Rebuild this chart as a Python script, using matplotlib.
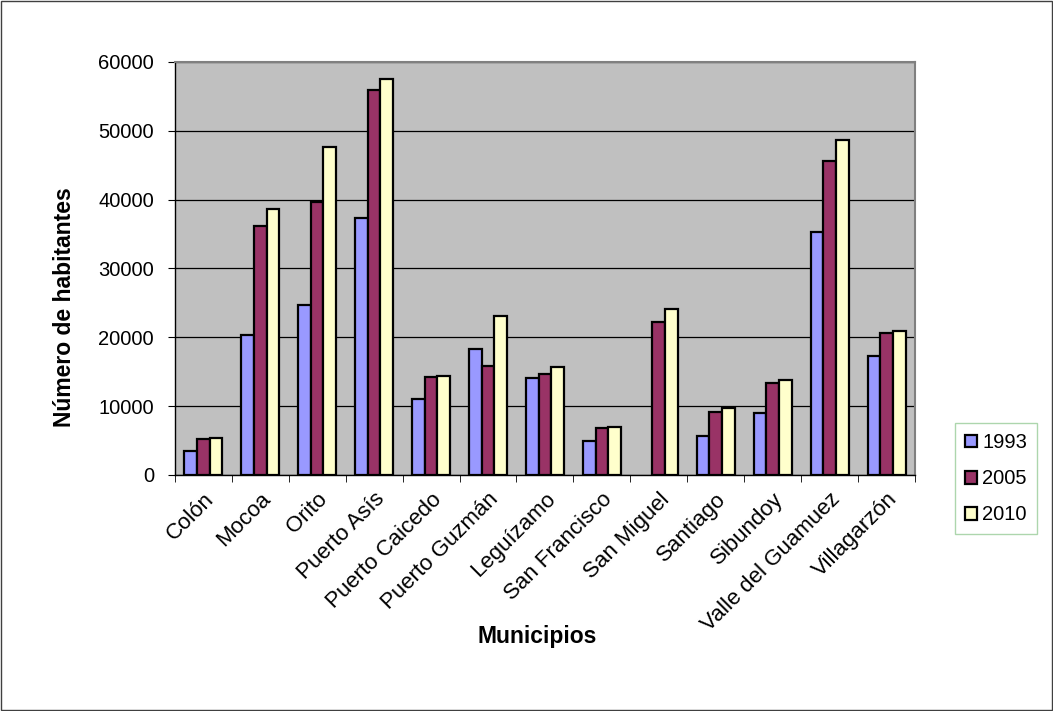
import matplotlib.pyplot as plt
import numpy as np

plt.rcParams['font.family'] = ['Liberation Sans', 'DejaVu Sans']

municipios = ["Colón", "Mocoa", "Orito", "Puerto Asís", "Puerto Caicedo",
              "Puerto Guzmán", "Leguízamo", "San Francisco", "San Miguel",
              "Santiago", "Sibundoy", "Valle del Guamuez", "Villagarzón"]
anios = ["1993", "2005", "2010"]
pob_1993 = [3500, 20270, 24640, 37250, 10960, 18330, 14070, 4950, 0, 5630, 8950, 35260, 17220]
pob_2005 = [5280, 36230, 39580, 55880, 14160, 15860, 14700, 6880, 22260, 9210, 13390, 45550, 20620]
pob_2010 = [5430, 38560, 47630, 57480, 14410, 23140, 15720, 7030, 24160, 9790, 13730, 48650, 20860]
colores = ["#9999FF", "#993366", "#FFFFCC"]

fig = plt.figure(figsize=(10.53, 7.11), dpi=100)
ax = fig.add_axes([0.166, 0.332, 0.703, 0.581])
ax.set_facecolor("#C0C0C0")

x = np.arange(len(municipios))
w = 1 / 4.5
for i, (serie, color, lab) in enumerate(zip([pob_1993, pob_2005, pob_2010], colores, anios)):
    # sin borde para valores cero (San Miguel 1993)
    lws = [1.6 if v > 0 else 0 for v in serie]
    ax.bar(x + (i - 1) * w, serie, width=w, color=color, edgecolor="black",
           linewidth=lws, label=lab, zorder=3)

ax.set_xlim(-0.5, len(municipios) - 0.5)
ax.set_ylim(0, 60000)
ax.set_yticks(range(0, 60001, 10000))
ax.yaxis.grid(True, color="black", linewidth=0.9, zorder=1)
ax.set_axisbelow(True)

ax.set_xticks(x)
ax.set_xticklabels(municipios, rotation=45, ha="right", rotation_mode="anchor", fontsize=16)
ax.set_xticks(np.arange(-0.5, len(municipios), 1), minor=True)
ax.tick_params(axis="x", which="major", length=0, pad=10)
ax.tick_params(axis="x", which="minor", length=5, color="black")
ax.tick_params(axis="y", labelsize=14.5, length=5, pad=10)

for s in ["top", "right"]:
    ax.spines[s].set_color("#808080")
    ax.spines[s].set_linewidth(1.5)
for s in ["left", "bottom"]:
    ax.spines[s].set_color("black")
    ax.spines[s].set_linewidth(1.0)

ax.set_ylabel("Número de habitantes", fontsize=16.5, fontweight="bold", va="center")
ax.yaxis.set_label_coords(-0.149, 0.407)
ax.set_xlabel("Municipios", fontsize=16.5, fontweight="bold", va="center")
ax.xaxis.set_label_coords(0.49, -0.392)

leg = fig.legend(loc="upper left", bbox_to_anchor=(0.907, 0.405), fontsize=14.5,
                 frameon=True, fancybox=False, handlelength=0.6, handleheight=0.6,
                 handletextpad=0.25, labelspacing=0.85, borderpad=0.5, borderaxespad=0)
leg.get_frame().set_edgecolor("#99CC99")
leg.get_frame().set_linewidth(1.0)

fig.patches.append(plt.Rectangle((0.001, 0.001), 0.998, 0.997, transform=fig.transFigure,
                                 fill=False, edgecolor="#404040", linewidth=1))

fig.savefig("out.png", dpi=100)
